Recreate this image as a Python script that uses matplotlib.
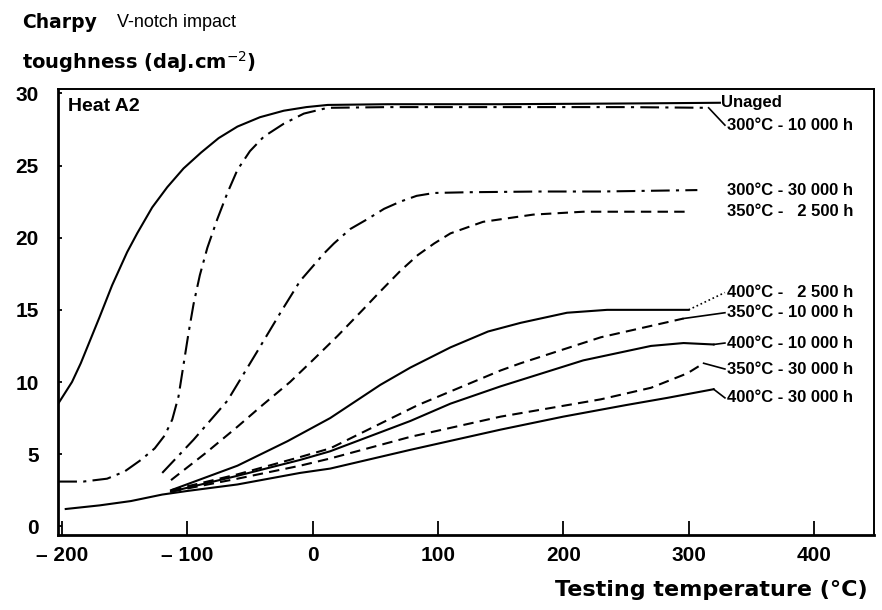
import matplotlib.pyplot as plt

# 字体
plt.rcParams['font.family'] = ['Liberation Sans', 'DejaVu Sans']

# ---- 数据 ----
unaged_t = [-203, -192, -185, -170, -160, -148, -140, -128, -116, -103, -89, -75, -60, -42, -23, -5, 12, 60, 150, 250, 325]
unaged_k = [8.5, 10.0, 11.3, 14.5, 16.7, 19.0, 20.3, 22.1, 23.5, 24.8, 25.9, 26.9, 27.7, 28.35, 28.8, 29.05, 29.2, 29.25, 29.25, 29.3, 29.35]

a300_10k_t = [-203, -183, -164, -150, -137, -126, -118, -112, -107, -103, -99, -95, -90, -84, -76, -68, -60, -50, -39, -23, -7, 12, 60, 150, 250, 316]
a300_10k_k = [3.1, 3.1, 3.3, 3.8, 4.6, 5.4, 6.3, 7.4, 9.0, 11.2, 13.4, 15.4, 17.4, 19.3, 21.3, 23.1, 24.7, 26.0, 27.0, 27.9, 28.6, 29.0, 29.05, 29.05, 29.05, 29.0]

a300_30k_t = [-120, -95, -68, -45, -25, -10, 9, 17, 30, 44, 57, 70, 83, 97, 124, 180, 230, 307]
a300_30k_k = [3.7, 6.0, 8.7, 12.0, 14.9, 17.0, 18.9, 19.6, 20.6, 21.3, 22.0, 22.5, 22.9, 23.1, 23.15, 23.2, 23.2, 23.3]

a350_2500_t = [-113, -85, -60, -40, -18, 0, 20, 40, 52, 70, 84, 97, 110, 136, 176, 216, 300]
a350_2500_k = [3.2, 5.1, 6.9, 8.4, 10.0, 11.5, 13.2, 15.0, 16.1, 17.7, 18.8, 19.6, 20.3, 21.1, 21.6, 21.8, 21.8]

a400_2500_t = [-113, -60, -20, 14, 54, 78, 110, 140, 166, 203, 235, 300]
a400_2500_k = [2.5, 4.2, 5.9, 7.5, 9.8, 11.0, 12.4, 13.5, 14.1, 14.8, 15.0, 15.0]

a350_10k_t = [-113, -60, -10, 14, 84, 150, 166, 230, 296]
a350_10k_k = [2.5, 3.6, 4.8, 5.4, 8.4, 10.8, 11.3, 13.1, 14.4]

a400_10k_t = [-113, -60, -10, 14, 78, 110, 150, 216, 270, 296, 320]
a400_10k_k = [2.4, 3.5, 4.6, 5.2, 7.3, 8.5, 9.7, 11.5, 12.5, 12.7, 12.6]

a350_30k_t = [-113, -60, -10, 14, 78, 150, 230, 270, 299, 312]
a350_30k_k = [2.4, 3.3, 4.2, 4.7, 6.2, 7.6, 8.8, 9.6, 10.6, 11.3]

a400_30k_t = [-197, -170, -145, -120, -100, -60, -10, 14, 78, 150, 200, 250, 283, 320]
a400_30k_k = [1.2, 1.45, 1.75, 2.2, 2.45, 2.9, 3.7, 4.0, 5.3, 6.7, 7.6, 8.4, 8.9, 9.5]

labels = ['Unaged', '300°C - 10 000 h', '300°C - 30 000 h', '350°C -   2 500 h',
          '400°C -   2 500 h', '350°C - 10 000 h', '400°C - 10 000 h',
          '350°C - 30 000 h', '400°C - 30 000 h']
label_k = [29.4, 27.8, 23.3, 21.8, 16.2, 14.8, 12.7, 10.9, 8.9]

xticks = [-200, -100, 0, 100, 200, 300, 400]
xticklabels = ['– 200', '– 100', '0', '100', '200', '300', '400']
yticks = [0, 5, 10, 15, 20, 25, 30]

# ---- 样式 ----
dashdot = (0, (9, 3, 1.5, 3))
dashed = (0, (5, 3))
curves = [
    (unaged_t, unaged_k, '-', None),
    (a300_10k_t, a300_10k_k, dashdot, '-'),
    (a300_30k_t, a300_30k_k, dashdot, None),
    (a350_2500_t, a350_2500_k, dashed, None),
    (a400_2500_t, a400_2500_k, '-', ':'),
    (a350_10k_t, a350_10k_k, dashed, '-'),
    (a400_10k_t, a400_10k_k, '-', '-'),
    (a350_30k_t, a350_30k_k, dashed, '-'),
    (a400_30k_t, a400_30k_k, '-', '-'),
]

fig = plt.figure(figsize=(8.82, 6.10), dpi=100)
ax = fig.add_axes([0.066, 0.123, 0.925, 0.731])

label_x = 331
for (t, k, ls, leader), lab, ly in zip(curves, labels, label_k):
    ax.plot(t, k, color='black', linestyle=ls, linewidth=1.5)
    # 引线: 曲线末端 -> 标注
    if leader is not None:
        ax.plot([t[-1], label_x - 2], [k[-1], ly], color='black', linestyle=leader, linewidth=1.2)
    lx = 326 if lab == 'Unaged' else label_x
    ax.text(lx, ly, lab, fontsize=12, fontweight='bold', ha='left', va='center')

ax.set_xlim(-203, 448)
ax.set_ylim(-0.6, 30.3)
ax.set_xticks(xticks)
ax.set_xticklabels(xticklabels)
ax.set_yticks(yticks)
ax.tick_params(axis='x', direction='in', length=10, width=1.3, pad=8, labelsize=15)
ax.tick_params(axis='y', direction='in', length=3, width=1.3, pad=14, labelsize=15)
for lab in ax.get_xticklabels() + ax.get_yticklabels():
    lab.set_fontweight('bold')
for side in ['left', 'bottom']:
    ax.spines[side].set_linewidth(2.0)
for side in ['top', 'right']:
    ax.spines[side].set_linewidth(1.4)

ax.text(0.012, 0.96, 'Heat A2', transform=ax.transAxes, fontsize=14, fontweight='bold',
        ha='left', va='center')

# 坐标轴标题
fig.text(0.025, 0.963, 'Charpy', family='DejaVu Sans', fontsize=13.5, fontweight='bold',
         ha='left', va='center')
fig.text(0.133, 0.963, 'V-notch impact', fontsize=13, ha='left', va='center')
fig.text(0.025, 0.898, 'toughness (daJ.cm$^{-2}$)', family='DejaVu Sans', fontsize=14,
         fontweight='bold', ha='left', va='center')
fig.text(0.984, 0.033, 'Testing temperature (°C)', family='DejaVu Sans', fontsize=16,
         fontweight='bold', ha='right', va='center')

plt.savefig('out.png', dpi=100)
